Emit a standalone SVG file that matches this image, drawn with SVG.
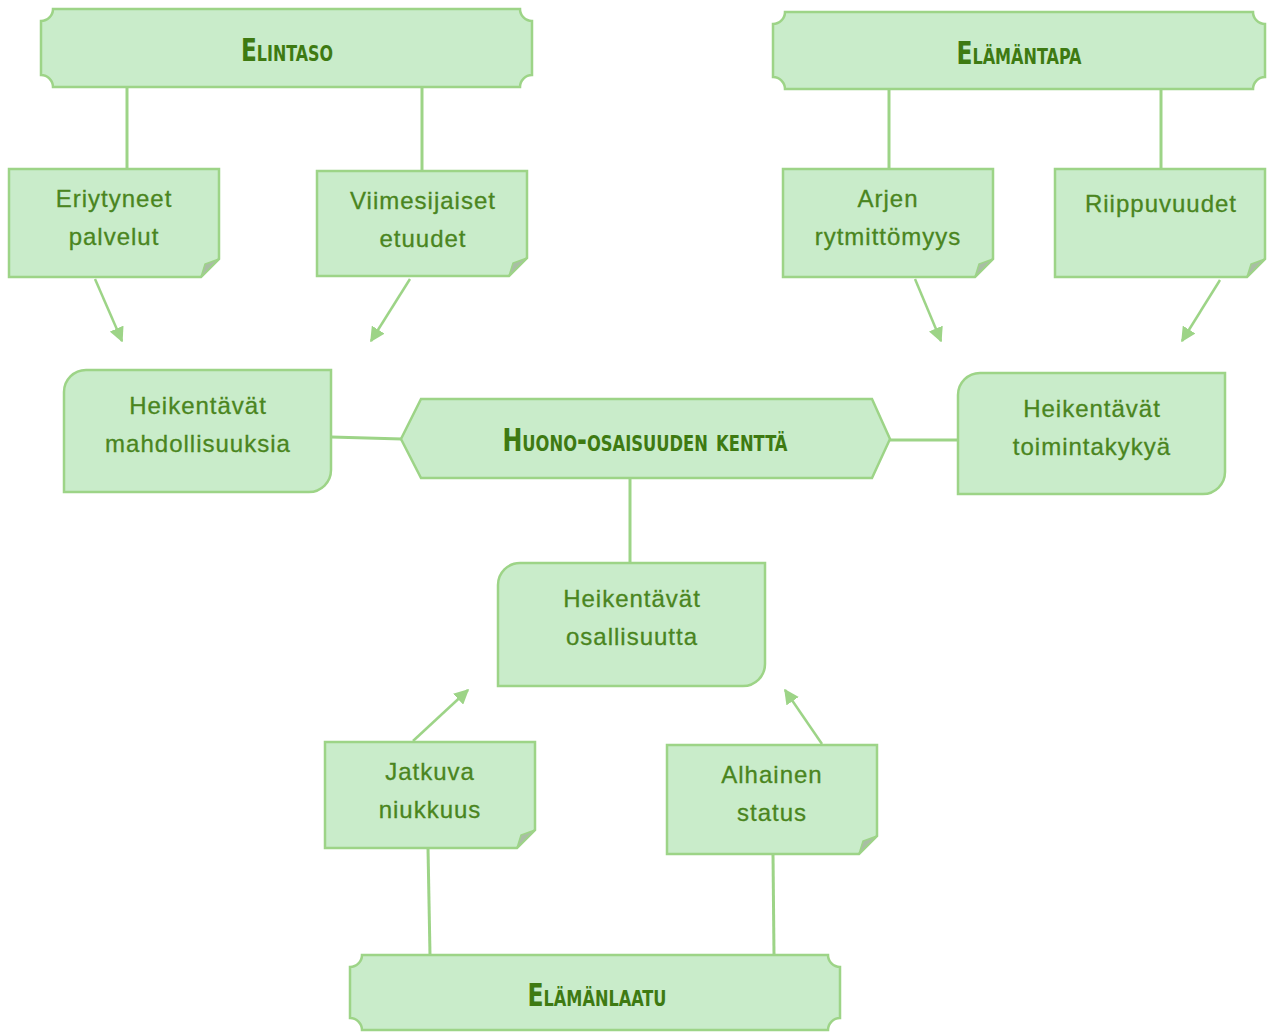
<svg xmlns="http://www.w3.org/2000/svg" width="1267" height="1032" viewBox="0 0 1267 1032">
<defs>
<marker id="ah" viewBox="0 0 10 10" refX="9" refY="5" markerWidth="6" markerHeight="6" orient="auto" markerUnits="strokeWidth">
<path d="M0,0 L10,5 L0,10 Z" fill="#9dd487"/>
</marker>
</defs>
<style>
.shape{fill:#c9ecca;stroke:#9dd487;stroke-width:2.5}
.fold{fill:#a9bea4;stroke:#9dd487;stroke-width:1.5}
.conn{stroke:#9dd487;stroke-width:3;fill:none}
.arr{stroke:#9dd487;stroke-width:2.5;fill:none;marker-end:url(#ah)}
.t{font-family:"Liberation Sans",Arial,sans-serif;font-size:24px;letter-spacing:1px;fill:#4a8520;stroke:#4a8520;stroke-width:0.3;text-anchor:middle}
.h{font-family:"DejaVu Sans Condensed","DejaVu Sans",sans-serif;font-weight:bold;font-size:32px;font-variant:small-caps;fill:#3e7a12;text-anchor:middle}
</style>
<rect width="1267" height="1032" fill="#ffffff"/>
<g id="connectors">
<line class="conn" x1="127" y1="87" x2="127" y2="169"/>
<line class="conn" x1="422" y1="87" x2="422" y2="171"/>
<line class="conn" x1="889" y1="89" x2="889" y2="169"/>
<line class="conn" x1="1161" y1="89" x2="1161" y2="169"/>
<line class="arr" x1="95" y1="279" x2="122" y2="341"/>
<line class="arr" x1="410" y1="279" x2="371" y2="341"/>
<line class="arr" x1="915" y1="279" x2="941" y2="341"/>
<line class="arr" x1="1220" y1="280" x2="1182" y2="341"/>
<line class="conn" x1="331" y1="437" x2="402" y2="439"/>
<line class="conn" x1="889" y1="440" x2="958" y2="440"/>
<line class="conn" x1="630" y1="478" x2="630" y2="563"/>
<line class="arr" x1="413" y1="741" x2="468" y2="690"/>
<line class="arr" x1="822" y1="744" x2="785" y2="690"/>
<line class="conn" x1="428" y1="848" x2="430" y2="955"/>
<line class="conn" x1="773" y1="854" x2="774" y2="955"/>
</g>
<g id="elintaso">
<path class="shape" d="M53,9 H520 A12,12 0 0 0 532,21 V75 A12,12 0 0 0 520,87 H53 A12,12 0 0 0 41,75 V21 A12,12 0 0 0 53,9 Z"/>
<text class="h" x="287" y="61" textLength="92" lengthAdjust="spacingAndGlyphs">Elintaso</text>
</g>
<g id="elamantapa">
<path class="shape" d="M785,12 H1253 A12,12 0 0 0 1265,24 V77 A12,12 0 0 0 1253,89 H785 A12,12 0 0 0 773,77 V24 A12,12 0 0 0 785,12 Z"/>
<text class="h" x="1019" y="64" textLength="125" lengthAdjust="spacingAndGlyphs">Elämäntapa</text>
</g>
<g id="eriytyneet">
<path class="shape" d="M9,169 H219 V259 L201,277 H9 Z"/>
<path class="fold" d="M201,277 L205,264 L219,259 Z"/>
<text class="t" x="114" y="207">Eriytyneet</text>
<text class="t" x="114" y="245">palvelut</text>
</g>
<g id="viimesijaiset">
<path class="shape" d="M317,171 H527 V258 L509,276 H317 Z"/>
<path class="fold" d="M509,276 L513,263 L527,258 Z"/>
<text class="t" x="423" y="209">Viimesijaiset</text>
<text class="t" x="423" y="247">etuudet</text>
</g>
<g id="arjen">
<path class="shape" d="M783,169 H993 V259 L975,277 H783 Z"/>
<path class="fold" d="M975,277 L979,264 L993,259 Z"/>
<text class="t" x="888" y="207">Arjen</text>
<text class="t" x="888" y="245">rytmittömyys</text>
</g>
<g id="riippuvuudet">
<path class="shape" d="M1055,169 H1265 V259 L1247,277 H1055 Z"/>
<path class="fold" d="M1247,277 L1251,264 L1265,259 Z"/>
<text class="t" x="1161" y="212">Riippuvuudet</text>
</g>
<g id="mahdollisuuksia">
<path class="shape" d="M86,370 H331 V470 A22,22 0 0 1 309,492 H64 V392 A22,22 0 0 1 86,370 Z"/>
<text class="t" x="198" y="414">Heikentävät</text>
<text class="t" x="198" y="452">mahdollisuuksia</text>
</g>
<g id="huono-osaisuus">
<path class="shape" d="M421,399 H872 L890,439 L872,478 H421 L401,439 Z"/>
<text class="h" x="645" y="451" textLength="285" lengthAdjust="spacingAndGlyphs">Huono-osaisuuden kenttä</text>
</g>
<g id="toimintakykya">
<path class="shape" d="M980,373 H1225 V472 A22,22 0 0 1 1203,494 H958 V395 A22,22 0 0 1 980,373 Z"/>
<text class="t" x="1092" y="417">Heikentävät</text>
<text class="t" x="1092" y="455">toimintakykyä</text>
</g>
<g id="osallisuutta">
<path class="shape" d="M520,563 H765 V664 A22,22 0 0 1 743,686 H498 V585 A22,22 0 0 1 520,563 Z"/>
<text class="t" x="632" y="607">Heikentävät</text>
<text class="t" x="632" y="645">osallisuutta</text>
</g>
<g id="jatkuva">
<path class="shape" d="M325,742 H535 V830 L517,848 H325 Z"/>
<path class="fold" d="M517,848 L521,835 L535,830 Z"/>
<text class="t" x="430" y="780">Jatkuva</text>
<text class="t" x="430" y="818">niukkuus</text>
</g>
<g id="alhainen">
<path class="shape" d="M667,745 H877 V836 L859,854 H667 Z"/>
<path class="fold" d="M859,854 L863,841 L877,836 Z"/>
<text class="t" x="772" y="783">Alhainen</text>
<text class="t" x="772" y="821">status</text>
</g>
<g id="elamanlaatu">
<path class="shape" d="M362,955 H828 A12,12 0 0 0 840,967 V1018 A12,12 0 0 0 828,1030 H362 A12,12 0 0 0 350,1018 V967 A12,12 0 0 0 362,955 Z"/>
<text class="h" x="597" y="1006" textLength="139" lengthAdjust="spacingAndGlyphs">Elämänlaatu</text>
</g>
</svg>
